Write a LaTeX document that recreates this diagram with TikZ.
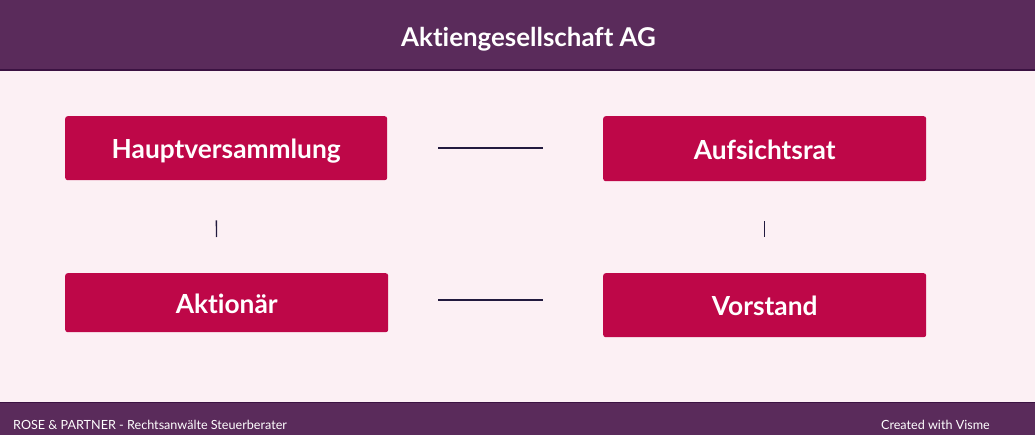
\documentclass[tikz,border=0pt]{standalone}
\usepackage{fontspec}
\setmainfont{Lato}[Ligatures=NoCommon]
\definecolor{band}{HTML}{5A2B5B}
\definecolor{bandline}{HTML}{3B1242}
\definecolor{bg}{HTML}{FCF0F4}
\definecolor{boxc}{HTML}{BE0748}
\definecolor{linec}{HTML}{221A3E}
\tikzset{
  card/.style={fill=boxc, rounded corners=2.5pt, draw=none, text=white,
    font=\bfseries\fontsize{26.3}{30}\selectfont, inner sep=0pt, anchor=north west,
    text height=21pt, text depth=0pt},
  conn/.style={draw=linec, line width=1.4pt},
  foot/.style={text=white, font=\fontsize{12.6}{14}\selectfont, inner sep=0pt}
}
\begin{document}
\begin{tikzpicture}[x=1pt,y=-1pt]
\useasboundingbox (0,0) rectangle (1035,435);
\fill[bg] (0,0) rectangle (1035,435);
\fill[band] (0,0) rectangle (1035,70);
\draw[bandline, line width=1.2pt] (0,70) -- (1035,70);
\fill[band] (0,402) rectangle (1035,435);
\draw[bandline, line width=1pt] (0,402) -- (1035,402);
\node[text=white, font=\bfseries\fontsize{25.9}{28}\selectfont, inner sep=0pt, anchor=base] (title) at (528.5,47) {Aktiengesellschaft AG};

\node[card, minimum width=322pt, minimum height=64pt] (hv) at (65,116) {Hauptversammlung};
\node[card, minimum width=323pt, minimum height=65pt] (ar) at (603,116) {Aufsichtsrat};
\node[card, minimum width=323pt, minimum height=59pt] (ak) at (65,273) {Aktionär};
\node[card, minimum width=323pt, minimum height=64pt] (vs) at (603,273) {Vorstand};

\draw[conn, shorten <=51pt, shorten >=60pt] (hv.east) -- (ar.west |- hv.east);
\draw[conn, shorten <=50pt, shorten >=60pt] ([yshift=2.5pt]ak.east) -- ([yshift=2.5pt]vs.west |- ak.east);
\draw[conn, shorten <=40pt, shorten >=36pt] ([xshift=-10pt]hv.south) -- ([xshift=-10pt]ak.north);
\draw[conn, shorten <=40pt, shorten >=36pt] (ar.south) -- (vs.north);

\node[foot, anchor=base west] (f1) at (13,429.5) {ROSE \& PARTNER - Rechtsanwälte Steuerberater};
\node[foot, anchor=base east] (f2) at (990,429.5) {Created with Visme};
\end{tikzpicture}
\end{document}
